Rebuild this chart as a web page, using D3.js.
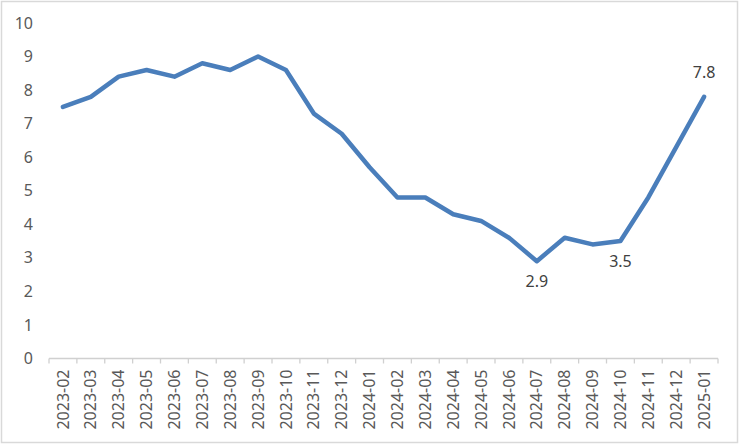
<!DOCTYPE html>
<html><head><meta charset="utf-8">
<script src="https://cdn.jsdelivr.net/npm/d3@7"></script>
<style>html,body{margin:0;padding:0;background:#fff;}svg{display:block;}</style>
</head><body>
<svg id="chart" width="740" height="445"></svg>
<script>
const categories = ["2023-02","2023-03","2023-04","2023-05","2023-06","2023-07","2023-08","2023-09","2023-10","2023-11","2023-12","2024-01","2024-02","2024-03","2024-04","2024-05","2024-06","2024-07","2024-08","2024-09","2024-10","2024-11","2024-12","2025-01"];
const values = [7.5,7.8,8.4,8.6,8.4,8.8,8.6,9.0,8.6,7.3,6.7,5.7,4.8,4.8,4.3,4.1,3.6,2.9,3.6,3.4,3.5,4.8,6.3,7.8];
const yTicks = [0,1,2,3,4,5,6,7,8,9,10];
const labelled = [ {cat:"2024-07", pos:"below"}, {cat:"2024-10", pos:"below"}, {cat:"2025-01", pos:"above"} ];

const svg = d3.select("#chart");
const font = "'Noto Sans', 'Open Sans', sans-serif";
svg.append("rect").attr("x",1.5).attr("y",1.5).attr("width",736).attr("height",441)
  .attr("fill","#fff").attr("stroke","#d9d9d9").attr("stroke-width",1.5);

const x = d3.scaleBand().domain(categories).range([49, 718]);
const y = d3.scaleLinear().domain([0,10]).range([358.5, 23]);

// y axis labels (no line)
const yAxis = d3.axisLeft(y).tickValues(yTicks).tickSize(0).tickPadding(0).tickFormat(d3.format("d"));
const gy = svg.append("g").attr("transform","translate(33,0)").call(yAxis);
gy.select(".domain").remove();
gy.selectAll("text").attr("font-family",font).attr("font-size",16).attr("fill","#595959");

// x axis
const gx = svg.append("g").attr("transform",`translate(0,${y(0)})`);
gx.append("line").attr("x1",x.range()[0]).attr("x2",x.range()[1]).attr("stroke","#d0d0d0").attr("stroke-width",1.3);
const bounds = categories.map(c => x(c)).concat([x.range()[1]]);
gx.selectAll("line.tk").data(bounds).join("line").attr("class","tk")
  .attr("x1",d=>d).attr("x2",d=>d).attr("y1",0).attr("y2",5).attr("stroke","#d0d0d0").attr("stroke-width",1.3);
gx.selectAll("text").data(categories).join("text")
  .attr("transform", d => `translate(${x(d)+x.bandwidth()/2},11) rotate(-90)`)
  .attr("text-anchor","end").attr("dy","0.35em")
  .attr("font-family",font).attr("font-size",16).attr("fill","#595959")
  .text(d=>d);

// line
const line = d3.line().x((d,i)=>x(categories[i])+x.bandwidth()/2).y(d=>y(d));
svg.append("path").datum(values).attr("d",line).attr("fill","none")
  .attr("stroke","#4a7ebb").attr("stroke-width",4.5).attr("stroke-linejoin","round").attr("stroke-linecap","round");

// data labels
labelled.forEach(l => {
  const i = categories.indexOf(l.cat);
  const v = values[i];
  svg.append("text")
    .attr("x", x(l.cat)+x.bandwidth()/2)
    .attr("y", y(v) + (l.pos==="above" ? -24 : 20))
    .attr("dy","0.35em").attr("text-anchor","middle")
    .attr("font-family",font).attr("font-size",16).attr("fill","#404040")
    .text(d3.format(".1f")(v));
});
</script>
</body></html>
